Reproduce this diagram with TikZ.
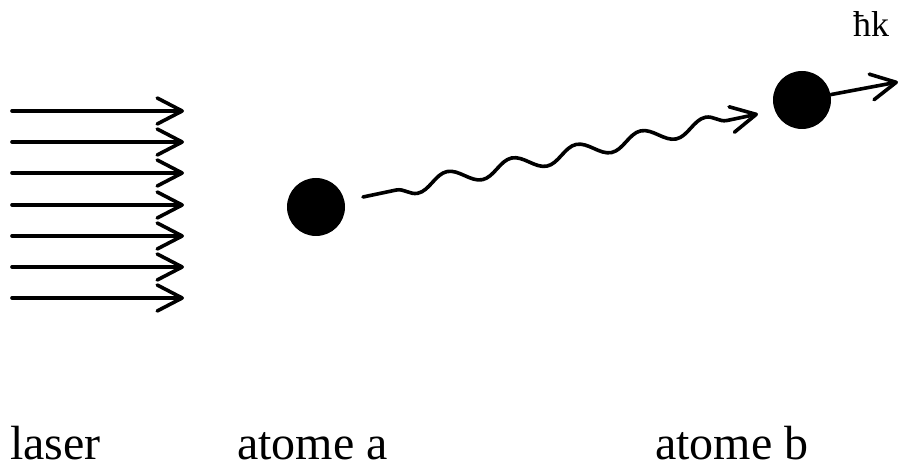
\documentclass[tikz,border=0pt]{standalone}
\usepackage{fontspec}
\setmainfont{Liberation Serif}
\usepackage{tikz}
\usetikzlibrary{arrows.meta}
\usetikzlibrary{decorations.pathmorphing}
\tikzset{
  ray/.style={line width=1.8pt,line cap=round,
    -{Straight Barb[length=12.5pt,width=13pt,round]}},
  atom/.style={circle,fill=black,inner sep=0pt,minimum size=29pt},
  photon/.style={line width=1.8pt,line cap=round,
    -{Straight Barb[length=12.5pt,width=13pt,round]},
    decorate,decoration={snake,mirror,segment length=33pt,amplitude=3.8pt,
    pre length=16.9pt,post length=10pt}},
  label/.style={font=\fontsize{24}{28}\selectfont,anchor=base west}
}
\newcommand\drawrays[1]{%
  \foreach \y [count=\i] in {#1} {
    \coordinate (rayL\i) at (12,\y);
    \coordinate (rayR\i) at (184,\y);
    \draw[ray] (rayL\i) -- (rayR\i);
  }
}
\begin{document}
\begin{tikzpicture}[x=0.5pt,y=0.5pt]
\useasboundingbox (0,0) rectangle (902,471);
\drawrays{360,329,298,266,235,204,173}

\node[atom] (atomA) at (316,264) {};
\node[atom] (atomB) at (802,371) {};
\coordinate (photonStart) at (363,274);
\coordinate (photonEnd) at (758,357);
\draw[photon] (photonStart) -- (photonEnd);
\coordinate (kickEnd) at (898,389);
\draw[ray] (atomB) -- (kickEnd);

\node[font=\fontsize{18}{21}\selectfont] (hk) at (871,447) {ħk};
\node[label] (laser) at (3,11) {laser};
\node[label] (atomeA) at (230,11) {atome a};
\node[label] (atomeB) at (648,11) {atome b};
\end{tikzpicture}
\end{document}
